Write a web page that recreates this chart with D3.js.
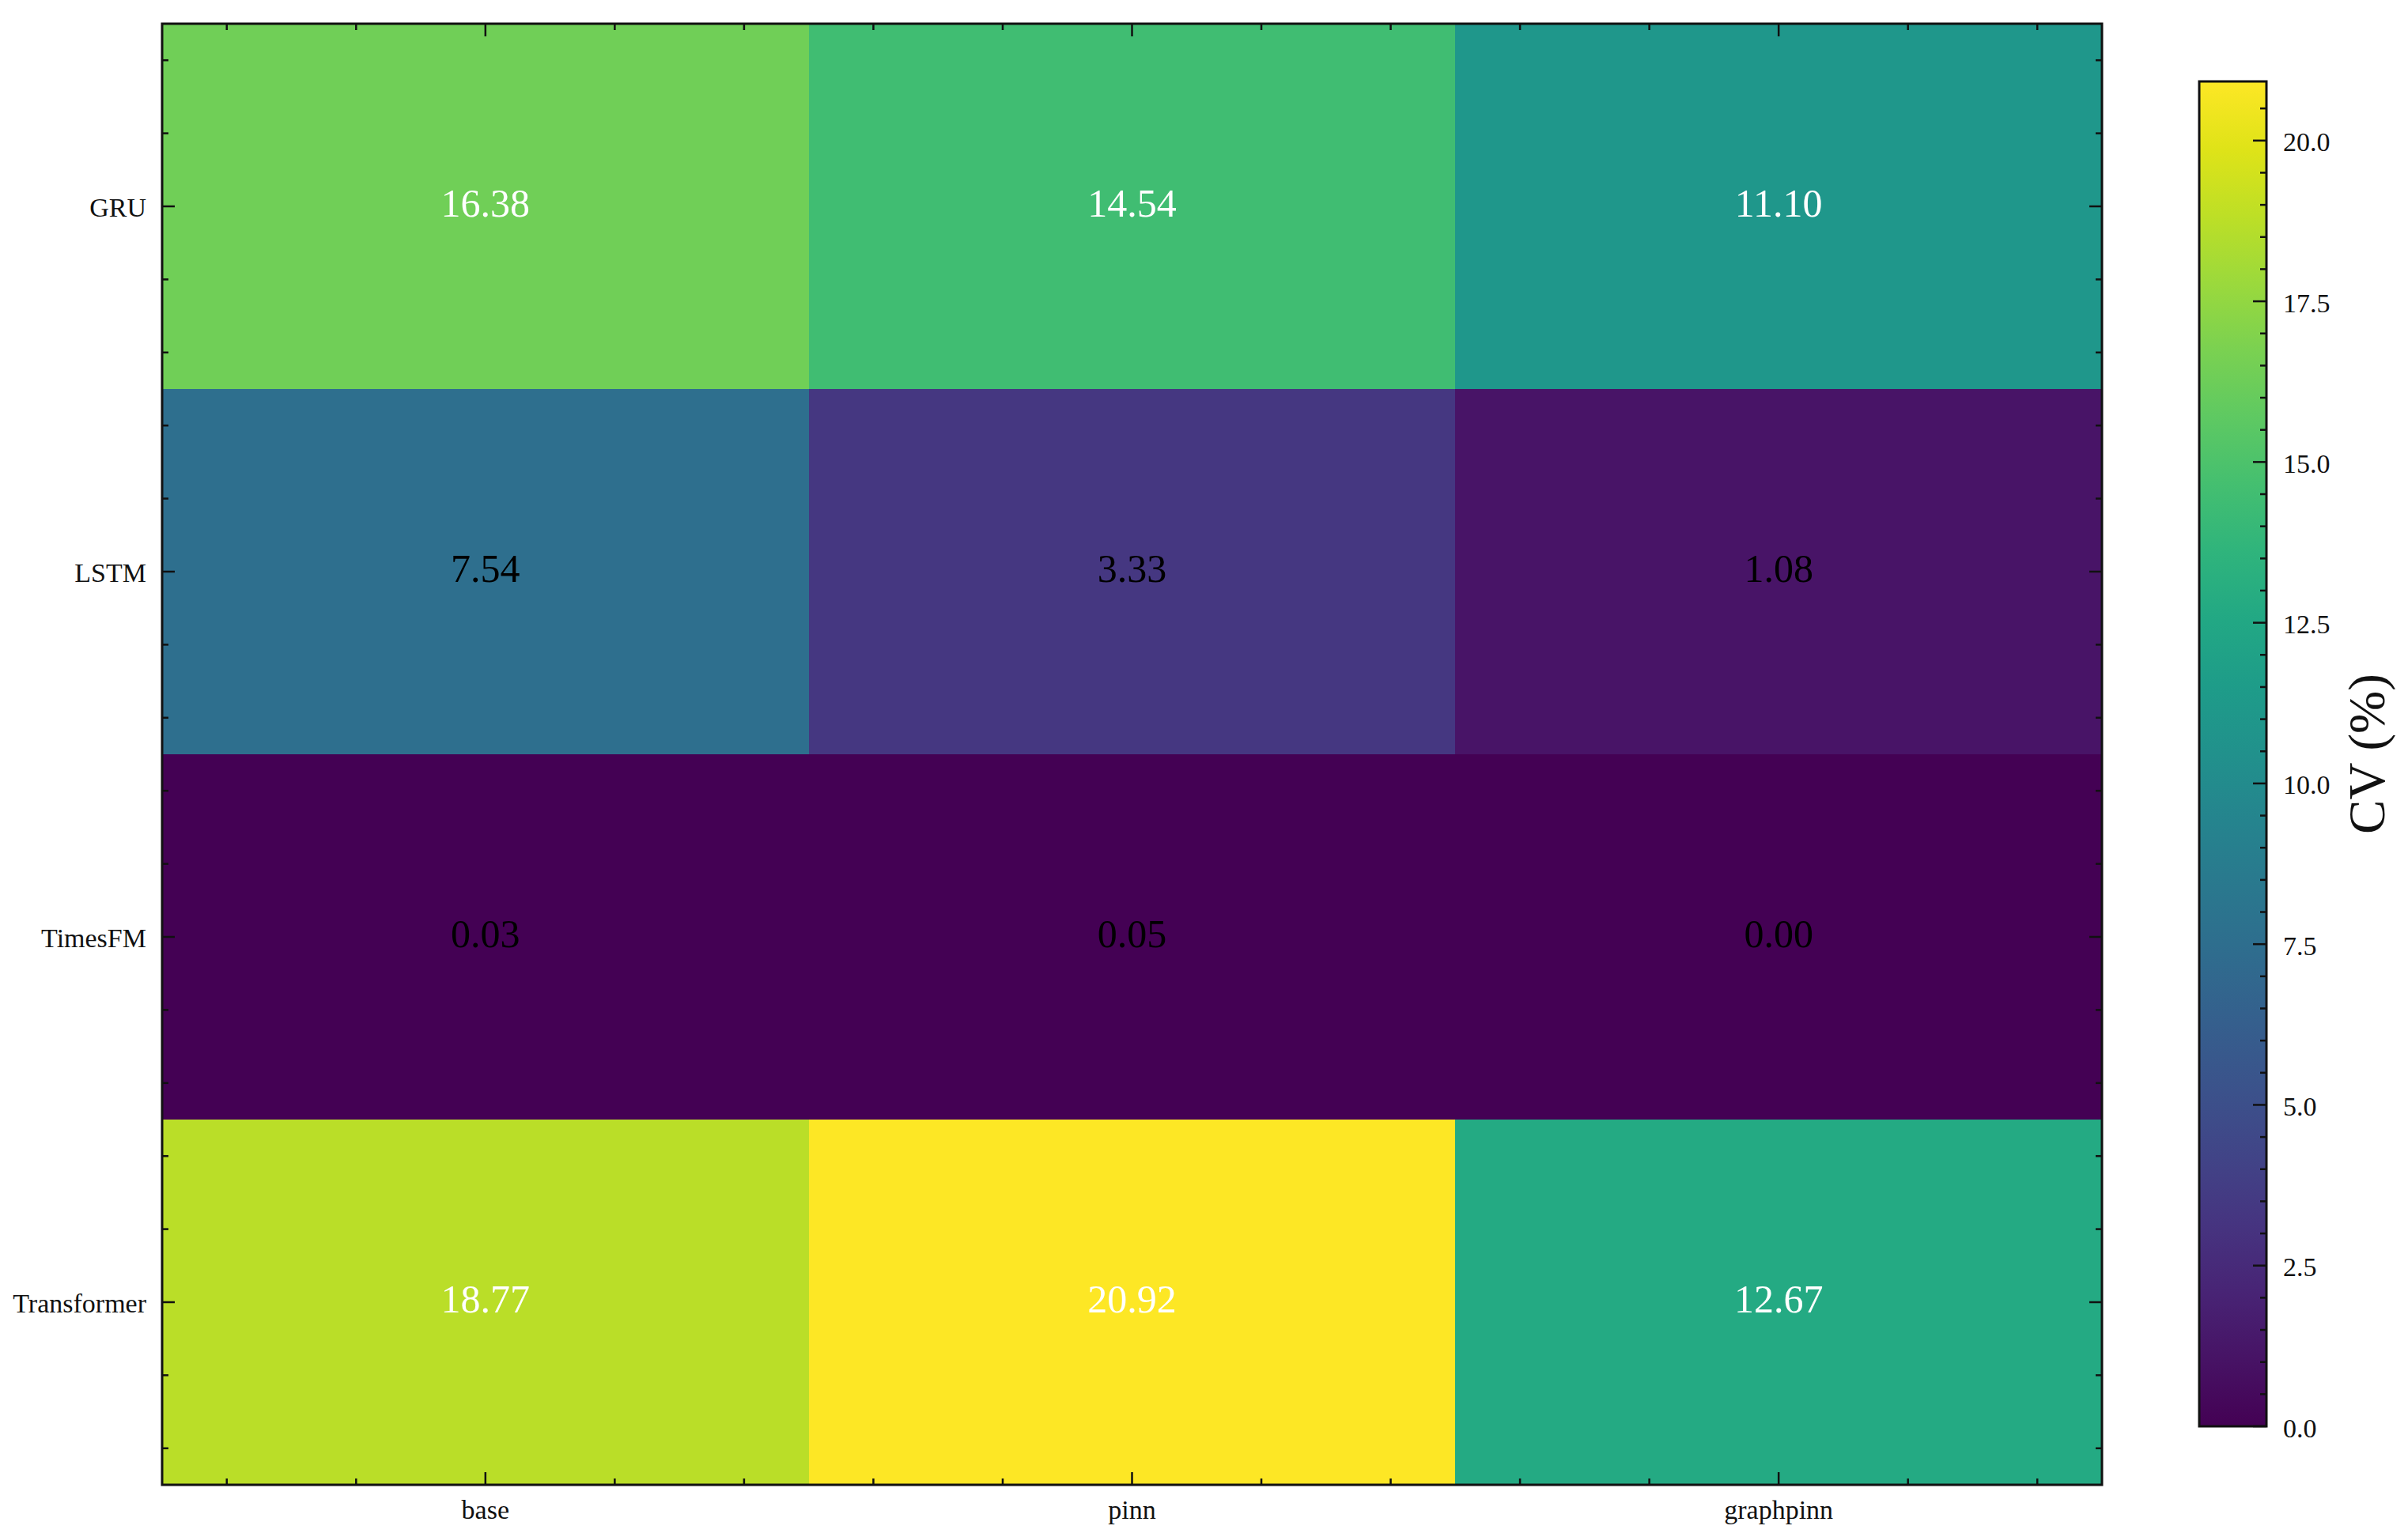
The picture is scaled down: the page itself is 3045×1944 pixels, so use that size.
<!DOCTYPE html>
<html>
<head>
<meta charset="utf-8">
<script src="https://cdn.jsdelivr.net/npm/d3@7"></script>
<style>
  html, body { margin: 0; padding: 0; background: #ffffff; }
  svg { display: block; }
  text { font-family: "Liberation Serif", "DejaVu Serif", serif; }
</style>
</head>
<body>
<svg id="chart" width="3045" height="1944"></svg>
<script>
// ---- data ----
const models = ["GRU", "LSTM", "TimesFM", "Transformer"];
const methods = ["base", "pinn", "graphpinn"];
const cvBase      = [16.38, 7.54, 0.03, 18.77];
const cvPinn      = [14.54, 3.33, 0.05, 20.92];
const cvGraphpinn = [11.10, 1.08, 0.00, 12.67];
const colorbarTicks = [0.0, 2.5, 5.0, 7.5, 10.0, 12.5, 15.0, 17.5, 20.0];
const colorbarLabel = "CV (%)";

const seriesByMethod = { base: cvBase, pinn: cvPinn, graphpinn: cvGraphpinn };
const cells = [];
models.forEach((m, i) => methods.forEach((k, j) => cells.push({ model: m, method: k, row: i, col: j, value: seriesByMethod[k][i] })));

const vmin = 0, vmax = d3.max(cells, d => d.value);

// ---- layout ----
const L = 205, R = 2658, T = 30, B = 1878;
const cbL = 2781, cbR = 2866, cbT = 103, cbB = 1804;

const svg = d3.select("#chart");

const xBand = d3.scaleBand().domain(methods).range([L, R]).padding(0);
const yBand = d3.scaleBand().domain(models).range([T, B]).padding(0);
const xLin = d3.scaleLinear().domain([-0.5, methods.length - 0.5]).range([L, R]);
const yLin = d3.scaleLinear().domain([-0.5, models.length - 0.5]).range([T, B]);
const color = d3.scaleSequential(d3.interpolateViridis).domain([vmin, vmax]);

// cells
svg.append("g").selectAll("rect").data(cells).join("rect")
  .attr("x", d => xBand(d.method))
  .attr("y", d => yBand(d.model))
  .attr("width", xBand.bandwidth() + 0.5)
  .attr("height", yBand.bandwidth() + 0.5)
  .attr("fill", d => color(d.value))
  .attr("shape-rendering", "crispEdges");

// annotations
const thresh = (vmin + vmax) / 2;
svg.append("g").selectAll("text").data(cells).join("text")
  .attr("x", d => xBand(d.method) + xBand.bandwidth() / 2)
  .attr("y", d => yBand(d.model) + yBand.bandwidth() / 2 - 4)
  .attr("text-anchor", "middle")
  .attr("dominant-baseline", "central")
  .attr("font-size", 50)
  .attr("fill", d => d.value > thresh ? "#ffffff" : "#000000")
  .text(d => d3.format(".2f")(d.value));

// ticks on all four sides (inward)
const majorX = d3.range(methods.length);
const majorY = d3.range(models.length);
const minorX = d3.range(-2, methods.length * 5 - 2).map(v => v / 5).filter(v => v > -0.5 && v < methods.length - 0.5 && Math.abs(v - Math.round(v)) > 1e-6);
const minorY = d3.range(-2, models.length * 5 - 2).map(v => v / 5).filter(v => v > -0.5 && v < models.length - 0.5 && Math.abs(v - Math.round(v)) > 1e-6);

const tickG = svg.append("g").attr("stroke", "#111").attr("stroke-width", 2.5);
function xTicks(vals, len) {
  vals.forEach(v => {
    const x = xLin(v);
    tickG.append("line").attr("x1", x).attr("x2", x).attr("y1", B).attr("y2", B - len);
    tickG.append("line").attr("x1", x).attr("x2", x).attr("y1", T).attr("y2", T + len);
  });
}
function yTicks(vals, len) {
  vals.forEach(v => {
    const y = yLin(v);
    tickG.append("line").attr("x1", L).attr("x2", L + len).attr("y1", y).attr("y2", y);
    tickG.append("line").attr("x1", R).attr("x2", R - len).attr("y1", y).attr("y2", y);
  });
}
xTicks(majorX, 16); xTicks(minorX, 8);
yTicks(majorY, 16); yTicks(minorY, 8);

// frame
svg.append("rect").attr("x", L).attr("y", T).attr("width", R - L).attr("height", B - T)
  .attr("fill", "none").attr("stroke", "#111").attr("stroke-width", 3);

// axis labels
svg.append("g").selectAll("text").data(methods).join("text")
  .attr("x", d => xBand(d) + xBand.bandwidth() / 2)
  .attr("y", 1921)
  .attr("text-anchor", "middle")
  .attr("font-size", 34)
  .attr("fill", "#111")
  .text(d => d);

svg.append("g").selectAll("text").data(models).join("text")
  .attr("x", L - 20)
  .attr("y", d => yBand(d) + yBand.bandwidth() / 2 + 1)
  .attr("text-anchor", "end")
  .attr("dominant-baseline", "central")
  .attr("font-size", 34)
  .attr("fill", "#111")
  .text(d => d);

// colorbar
const cbScale = d3.scaleLinear().domain([vmin, vmax]).range([cbB, cbT]);
const defs = svg.append("defs");
const grad = defs.append("linearGradient").attr("id", "cbgrad")
  .attr("x1", 0).attr("y1", 1).attr("x2", 0).attr("y2", 0);
d3.range(0, 1.0001, 0.05).forEach(t => {
  grad.append("stop").attr("offset", t).attr("stop-color", d3.interpolateViridis(t));
});
svg.append("rect").attr("x", cbL).attr("y", cbT).attr("width", cbR - cbL).attr("height", cbB - cbT)
  .attr("fill", "url(#cbgrad)");

const cbMinor = d3.range(0, Math.floor(vmax / 0.5) + 1).map(i => i * 0.5).filter(v => Math.abs(v / 2.5 - Math.round(v / 2.5)) > 1e-6);
const cbG = svg.append("g").attr("stroke", "#111").attr("stroke-width", 2.5);
colorbarTicks.forEach(v => {
  cbG.append("line").attr("x1", cbR).attr("x2", cbR - 17).attr("y1", cbScale(v)).attr("y2", cbScale(v));
});
cbMinor.forEach(v => {
  cbG.append("line").attr("x1", cbR).attr("x2", cbR - 8).attr("y1", cbScale(v)).attr("y2", cbScale(v));
});
svg.append("rect").attr("x", cbL).attr("y", cbT).attr("width", cbR - cbL).attr("height", cbB - cbT)
  .attr("fill", "none").attr("stroke", "#111").attr("stroke-width", 3);

svg.append("g").selectAll("text").data(colorbarTicks).join("text")
  .attr("x", cbR + 21)
  .attr("y", d => cbScale(d) + 2)
  .attr("dominant-baseline", "central")
  .attr("font-size", 34)
  .attr("fill", "#111")
  .text(d => d3.format(".1f")(d));

svg.append("text")
  .attr("transform", `translate(2993, ${(cbT + cbB) / 2}) rotate(-90)`)
  .attr("text-anchor", "middle")
  .attr("dominant-baseline", "central")
  .attr("font-size", 65)
  .attr("fill", "#111")
  .text(colorbarLabel);
</script>
</body>
</html>
